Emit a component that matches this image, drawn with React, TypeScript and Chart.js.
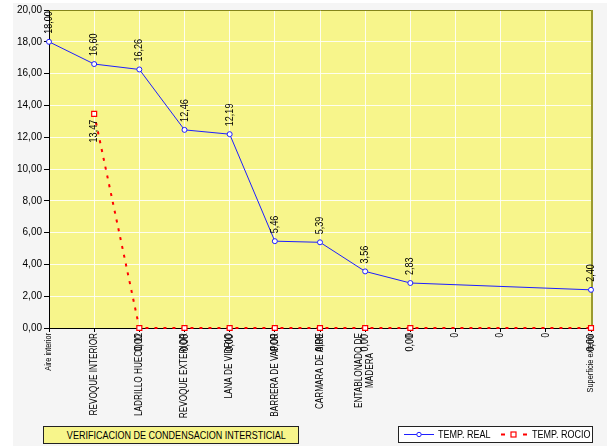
import React, { useEffect, useRef } from "react";
import { Chart, registerables } from "chart.js";

Chart.register(...registerables);

const FONT = "'Liberation Sans', Arial, sans-serif";
const CONDENSE = 0.82;

const categories: (string | string[])[] = [
  "Aire interior",
  "REVOQUE INTERIOR",
  "LADRILLO HUECO 12",
  "REVOQUE EXTERIOR",
  "LANA DE VIDRIO",
  "BARRERA DE VAPOR",
  "CARMARA DE AIRE",
  ["ENTABLONADO DE", "MADERA"],
  "0",
  "0",
  "0",
  "0",
  "Superficie exterior",
];

const tempReal: (number | null)[] = [18.0, 16.6, 16.26, 12.46, 12.19, 5.46, 5.39, 3.56, 2.83, null, null, null, 2.4];
const tempRocio: (number | null)[] = [null, 13.47, 0, 0, 0, 0, 0, 0, 0, null, null, null, 0];

const yMin = 0;
const yMax = 20;
const yStep = 2;

const seriesNames = ["TEMP. REAL", "TEMP. ROCIO"];
const chartTitle = "VERIFICACION DE CONDENSACION INTERSTICIAL";

const fmt = (v: number) => v.toFixed(2).replace(".", ",");

const PLOT_BG = "#f7f58b";

// draw text rotated -90deg (reading bottom to top), horizontally condensed
function drawVText(ctx: any, text: string, x: number, y: number, align: "left" | "right" | "center", size: number) {
  ctx.save();
  ctx.font = `${size}px ${FONT}`;
  ctx.fillStyle = "#000";
  ctx.textBaseline = "middle";
  ctx.textAlign = align;
  ctx.translate(x, y);
  ctx.rotate(-Math.PI / 2);
  ctx.scale(CONDENSE, 1);
  ctx.fillText(text, 0, 0);
  ctx.restore();
}

const plotBgPlugin = {
  id: "plotBg",
  beforeDraw(chart: any) {
    const { ctx, chartArea } = chart;
    ctx.save();
    ctx.fillStyle = PLOT_BG;
    ctx.fillRect(chartArea.left, chartArea.top, chartArea.right - chartArea.left, chartArea.bottom - chartArea.top);
    ctx.restore();
  },
  beforeDatasetsDraw(chart: any) {
    const { ctx, chartArea } = chart;
    ctx.save();
    ctx.strokeStyle = "#85851a";
    ctx.lineWidth = 1;
    ctx.beginPath();
    ctx.moveTo(chartArea.left, chartArea.top + 0.5);
    ctx.lineTo(chartArea.right + 1, chartArea.top + 0.5);
    ctx.stroke();
    ctx.lineWidth = 2;
    ctx.strokeStyle = "#9a9a30";
    ctx.beginPath();
    ctx.moveTo(chartArea.right + 1, chartArea.top);
    ctx.lineTo(chartArea.right + 1, chartArea.bottom);
    ctx.stroke();
    ctx.restore();
  },
};

const xLabelPlugin = {
  id: "xLabels",
  afterDraw(chart: any) {
    const ctx = chart.ctx;
    const scale = chart.scales.x;
    const top = chart.chartArea.bottom + 5;
    scale.ticks.forEach((t: any, i: number) => {
      const x = scale.getPixelForTick(i);
      const label = chart.data.labels[t.value ?? i];
      const small = typeof label === "string" && label !== label.toUpperCase();
      const size = small ? 9 : 10;
      if (Array.isArray(label)) {
        ctx.save();
        ctx.font = `${size}px ${FONT}`;
        const w = Math.max(...label.map((l: string) => ctx.measureText(l).width)) * CONDENSE;
        ctx.restore();
        const lh = 11;
        label.forEach((l: string, k: number) => {
          const dx = (k - (label.length - 1) / 2) * lh;
          drawVText(ctx, l, x + dx, top + w / 2, "center", size);
        });
      } else {
        drawVText(ctx, label, x, top, "right", size);
      }
    });
  },
};

const pointLabelPlugin = {
  id: "pointLabels",
  afterDatasetsDraw(chart: any) {
    const ctx = chart.ctx;
    chart.data.datasets.forEach((ds: any, di: number) => {
      const meta = chart.getDatasetMeta(di);
      meta.data.forEach((pt: any, i: number) => {
        const v = ds.data[i];
        if (v == null) return;
        if (di === 0) drawVText(ctx, fmt(v), pt.x, pt.y - 8, "left", 11);
        else drawVText(ctx, fmt(v), pt.x, pt.y + 6, "right", 11);
      });
    });
  },
};

export default function App() {
  const ref = useRef<HTMLCanvasElement | null>(null);

  useEffect(() => {
    if (!ref.current) return;
    const chart = new Chart(ref.current, {
      type: "line",
      data: {
        labels: categories as any,
        datasets: [
          {
            label: seriesNames[0],
            data: tempReal,
            borderColor: "#1f1fff",
            borderWidth: 1,
            pointStyle: "circle",
            pointRadius: 2.5,
            pointBorderWidth: 1,
            pointBorderColor: "#1f1fff",
            pointBackgroundColor: "#ffffff",
            spanGaps: true,
            tension: 0,
            clip: false as any,
          },
          {
            label: seriesNames[1],
            data: tempRocio,
            borderColor: "#ff0000",
            borderWidth: 2,
            borderDash: [3, 6],
            pointStyle: "rect",
            pointRadius: 3.5,
            pointBorderWidth: 1.2,
            pointBorderColor: "#ff0000",
            pointBackgroundColor: "#ffffff",
            spanGaps: true,
            tension: 0,
            clip: false as any,
          },
        ],
      },
      options: {
        responsive: false,
        animation: false,
        layout: { padding: { left: 0, top: 10, right: 16, bottom: 0 } },
        plugins: {
          legend: { display: false },
          title: { display: false },
          tooltip: { enabled: false },
        },
        scales: {
          x: {
            type: "category",
            offset: false,
            grid: {
              color: "rgba(255,255,255,0.85)",
              tickColor: "#000",
              tickLength: 4,
              drawTicks: true,
            },
            border: { color: "#000", width: 1 },
            ticks: {
              autoSkip: false,
              display: false,
              maxRotation: 90,
              minRotation: 90,
            },
            afterFit: (scale: any) => {
              scale.height = 118;
            },
          },
          y: {
            min: yMin,
            max: yMax,
            grid: {
              color: "rgba(255,255,255,0.85)",
              tickColor: "#000",
              tickLength: 5,
            },
            border: { color: "#000", width: 1 },
            ticks: {
              stepSize: yStep,
              padding: 2,
              color: "#000",
              font: { family: FONT, size: 10 },
              callback: (v: any) => fmt(Number(v)),
            },
            afterFit: (scale: any) => {
              scale.width = 49;
            },
          },
        },
      },
      plugins: [plotBgPlugin, pointLabelPlugin, xLabelPlugin],
    });
    return () => chart.destroy();
  }, []);

  const condensed = (left: number, text: string) => (
    <span
      style={{
        position: "absolute",
        left,
        top: 0,
        transform: `scaleX(${CONDENSE})`,
        transformOrigin: "left center",
      }}
    >
      {text}
    </span>
  );

  return (
    <div style={{ position: "fixed", left: 0, top: 0, width: 607, height: 446, background: "#fff", overflow: "hidden" }}>
      <div style={{ position: "absolute", left: 13, top: 3, right: 0, bottom: 0, background: "#f5f5f5" }} />
      <canvas ref={ref} width={607} height={446} style={{ position: "absolute", left: 0, top: 0, width: 607, height: 446 }} />
      <div
        style={{
          position: "absolute",
          left: 43,
          top: 426,
          width: 254,
          height: 16,
          background: PLOT_BG,
          border: "1px solid #222",
          font: `11px ${FONT}`,
          color: "#000",
          lineHeight: "16px",
          whiteSpace: "nowrap",
          overflow: "hidden",
        }}
      >
        <span
          style={{
            position: "absolute",
            left: 0,
            width: 254,
            textAlign: "center",
            transform: `scaleX(${CONDENSE})`,
            transformOrigin: "center center",
          }}
        >
          {chartTitle}
        </span>
      </div>
      <div
        style={{
          position: "absolute",
          left: 398,
          top: 426,
          width: 193,
          height: 15,
          background: "#fff",
          border: "1px solid #222",
          font: `11px ${FONT}`,
          color: "#000",
          lineHeight: "15px",
          whiteSpace: "nowrap",
        }}
      >
        <svg width={32} height={15} style={{ position: "absolute", left: 5, top: 0 }}>
          <line x1={0} y1={7.5} x2={30} y2={7.5} stroke="#1f1fff" strokeWidth={1} />
          <circle cx={15} cy={7.5} r={2.2} fill="#fff" stroke="#1f1fff" strokeWidth={1} />
        </svg>
        {condensed(39, seriesNames[0])}
        <svg width={28} height={15} style={{ position: "absolute", left: 101, top: 0 }}>
          <line x1={1} y1={7.5} x2={27} y2={7.5} stroke="#ff0000" strokeWidth={2} strokeDasharray="4 7" />
          <rect x={11} y={5} width={5} height={5} fill="#fff" stroke="#ff0000" strokeWidth={1.2} />
        </svg>
        {condensed(133, seriesNames[1])}
      </div>
    </div>
  );
}
